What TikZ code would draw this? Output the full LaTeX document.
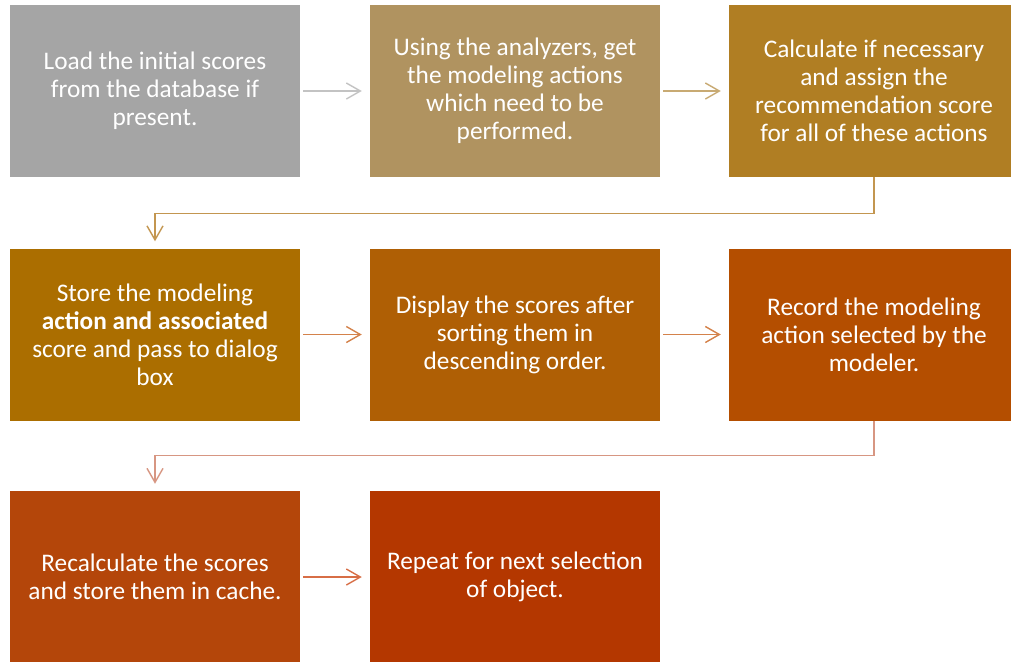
\documentclass[tikz,border=0pt]{standalone}
\usepackage{fontspec}
\setmainfont{Carlito}
\usetikzlibrary{arrows.meta}
\definecolor{boxA}{RGB}{165,165,165}
\definecolor{boxB}{RGB}{176,147,96}
\definecolor{boxC}{RGB}{176,126,35}
\definecolor{boxD}{RGB}{171,110,0}
\definecolor{boxE}{RGB}{175,95,5}
\definecolor{boxF}{RGB}{180,78,0}
\definecolor{boxG}{RGB}{180,70,10}
\definecolor{boxH}{RGB}{180,55,0}
\definecolor{lnA}{RGB}{195,195,195}
\definecolor{lnB}{RGB}{200,170,115}
\definecolor{lnC}{RGB}{195,150,80}
\definecolor{lnD}{RGB}{212,130,75}
\definecolor{lnE}{RGB}{215,150,130}
\definecolor{lnF}{RGB}{215,110,70}
\begin{document}
\begin{tikzpicture}[x=0.03cm,y=-0.03cm,
  task/.style={fill=#1,draw=none,minimum width=8.7cm,minimum height=5.16cm,
    inner sep=0pt,text=white,align=center,font=\fontsize{21.6}{23.8}\selectfont},
  link/.style={draw=#1,line width=1.2pt,shorten <=0.09cm,shorten >=0.24cm,
    -{Straight Barb[length=0.42cm,width=0.48cm]}},
  bend/.style={draw=#1,line width=1.2pt,shorten >=0.21cm,
    -{Straight Barb[length=0.42cm,width=0.48cm]}}]
\clip (0,0) rectangle (1011,661);
% first row
\node[task=boxA] (load) at (155,91) {Load the initial scores\\from the database if\\present.};
\node[task=boxB] (analyze) at (515,91) {Using the analyzers, get\\the modeling actions\\which need to be\\performed.};
\node[task=boxC] (calc) at (874,91) {Calculate if necessary\\and assign the\\recommendation score\\for all of these actions};
% second row
\node[task=boxD] (store) at (155,334.5) {Store the modeling\\\textbf{action and associated}\\score and pass to dialog\\box};
\node[task=boxE] (display) at (515,334.5) {Display the scores after\\sorting them in\\descending order.};
\node[task=boxF] (record) at (874,334.5) {Record the modeling\\action selected by the\\modeler.};
% third row
\node[task=boxG] (recalc) at (155,577) {Recalculate the scores\\and store them in cache.};
\node[task=boxH] (repeat) at (515,577) {Repeat for next selection\\of object.};
\draw[link=lnA] (load) -- (analyze);
\draw[link=lnB] (analyze) -- (calc);
\draw[bend=lnC] (calc.south) -- ++(0,36) -| (store.north);
\draw[link=lnD] (store) -- (display);
\draw[link=lnD] (display) -- (record);
\draw[bend=lnE] (record.south) -- ++(0,35) -| (recalc.north);
\draw[link=lnF] (recalc) -- (repeat);
\end{tikzpicture}
\end{document}
